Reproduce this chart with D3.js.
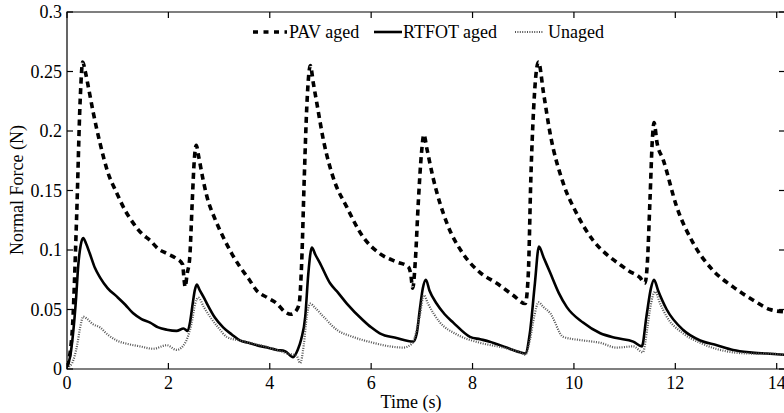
<!DOCTYPE html>
<html><head><meta charset="utf-8">
<script src="https://cdn.jsdelivr.net/npm/d3@7"></script>
<style>html,body{margin:0;padding:0;background:#fff;}svg{display:block;}</style>
</head><body>
<svg id="c" width="784" height="413"></svg>
<script>
const xTicks = [0, 2, 4, 6, 8, 10, 12, 14];
const yTicks = [0, 0.05, 0.1, 0.15, 0.2, 0.25, 0.3];
const yTickLabels = ["0", "0.05", "0.1", "0.15", "0.2", "0.25", "0.3"];
const seriesNames = ["PAV aged", "RTFOT aged", "Unaged"];

const pavTime = [0,0.1,0.19,0.26,0.31,0.36,0.43,0.52,0.65,0.8,0.98,1.15,1.3,1.47,1.64,1.8,1.97,2.15,2.28,2.31,2.33,2.37,2.42,2.47,2.51,2.55,2.6,2.68,2.76,2.92,3.08,3.25,3.41,3.58,3.74,3.95,4.14,4.3,4.42,4.52,4.58,4.63,4.68,4.73,4.8,4.86,4.93,5.06,5.25,5.52,5.84,6.17,6.5,6.73,6.78,6.82,6.87,6.93,6.99,7.04,7.1,7.22,7.49,7.81,8.15,8.48,8.8,9.04,9.1,9.15,9.22,9.3,9.4,9.53,9.79,10.05,10.38,10.71,10.9,11.1,11.3,11.4,11.45,11.5,11.55,11.58,11.64,11.76,12.03,12.35,12.74,13.14,13.53,13.87,14.15];
const pavForce = [0.002,0.03,0.128,0.226,0.258,0.25,0.235,0.215,0.19,0.166,0.148,0.133,0.123,0.114,0.108,0.101,0.097,0.093,0.088,0.075,0.069,0.08,0.093,0.14,0.175,0.188,0.178,0.16,0.145,0.126,0.111,0.097,0.086,0.076,0.066,0.06,0.055,0.048,0.046,0.049,0.055,0.09,0.16,0.22,0.255,0.24,0.223,0.192,0.161,0.136,0.111,0.097,0.09,0.086,0.08,0.068,0.09,0.14,0.18,0.197,0.185,0.161,0.123,0.097,0.081,0.072,0.062,0.055,0.08,0.16,0.23,0.258,0.232,0.198,0.156,0.131,0.108,0.094,0.088,0.082,0.077,0.072,0.09,0.142,0.195,0.207,0.19,0.176,0.136,0.106,0.083,0.069,0.058,0.05,0.048];

const rtfotTime = [0,0.06,0.12,0.18,0.22,0.27,0.32,0.38,0.45,0.55,0.65,0.8,0.98,1.15,1.3,1.47,1.64,1.8,1.97,2.16,2.3,2.38,2.43,2.48,2.52,2.56,2.62,2.7,2.76,2.92,3.08,3.25,3.41,3.58,3.74,3.95,4.14,4.3,4.46,4.55,4.62,4.7,4.76,4.83,4.9,4.99,5.19,5.35,5.52,5.84,6.0,6.17,6.5,6.83,6.9,6.96,7.02,7.08,7.15,7.29,7.45,7.62,7.95,8.15,8.34,8.67,8.94,9.04,9.13,9.23,9.31,9.4,9.53,9.7,9.86,10.18,10.52,10.84,11.17,11.34,11.43,11.52,11.58,11.66,11.83,12.15,12.49,12.82,13.14,13.47,13.8,14.15];
const rtfotForce = [0.002,0.01,0.03,0.06,0.086,0.104,0.11,0.105,0.097,0.085,0.077,0.068,0.061,0.054,0.047,0.042,0.039,0.035,0.033,0.032,0.034,0.032,0.04,0.055,0.066,0.071,0.066,0.06,0.055,0.043,0.035,0.029,0.024,0.022,0.02,0.018,0.016,0.015,0.01,0.016,0.025,0.044,0.08,0.102,0.096,0.089,0.072,0.064,0.055,0.041,0.035,0.03,0.026,0.023,0.03,0.05,0.068,0.075,0.066,0.055,0.046,0.039,0.027,0.025,0.023,0.018,0.014,0.013,0.03,0.072,0.103,0.094,0.081,0.064,0.052,0.039,0.03,0.026,0.023,0.019,0.044,0.068,0.075,0.066,0.05,0.033,0.024,0.02,0.016,0.014,0.013,0.012];

const unagedTime = [0,0.1,0.2,0.26,0.32,0.4,0.5,0.65,0.8,0.98,1.2,1.44,1.7,1.97,2.16,2.33,2.46,2.53,2.59,2.7,2.82,3.0,3.15,3.4,3.61,3.9,4.14,4.35,4.53,4.6,4.67,4.73,4.8,4.88,5.06,5.32,5.64,6.04,6.37,6.63,6.8,6.9,6.96,7.04,7.12,7.36,7.69,8.15,8.6,8.94,9.04,9.13,9.22,9.3,9.4,9.53,9.79,10.18,10.52,10.84,11.17,11.36,11.45,11.5,11.6,11.7,11.83,12.15,12.49,12.8,13.14,13.5,13.8,14.15];
const unagedForce = [0.001,0.005,0.02,0.035,0.044,0.042,0.038,0.035,0.029,0.024,0.021,0.019,0.017,0.02,0.016,0.022,0.039,0.055,0.06,0.052,0.044,0.034,0.027,0.024,0.022,0.019,0.016,0.013,0.011,0.005,0.02,0.044,0.055,0.052,0.044,0.033,0.027,0.022,0.019,0.018,0.021,0.033,0.045,0.062,0.055,0.039,0.029,0.022,0.018,0.014,0.012,0.024,0.045,0.056,0.052,0.047,0.027,0.024,0.022,0.018,0.019,0.014,0.035,0.05,0.065,0.055,0.044,0.03,0.022,0.017,0.014,0.013,0.013,0.012];

const L = 67, T = 12, R = 785, B = 369;
const x = d3.scaleLinear().domain([0, 14]).range([L, 776.7]);
const y = d3.scaleLinear().domain([0, 0.3]).range([B, T]);
const svg = d3.select("#c");
const font = "'Liberation Serif', 'Times New Roman', serif";

svg.append("clipPath").attr("id", "clp").append("rect")
  .attr("x", L).attr("y", T).attr("width", R - L).attr("height", B - T);

const line = d3.line().x(d => x(d[0])).y(d => y(d[1])).curve(d3.curveMonotoneX);
const zip = (a, b) => a.map((t, i) => [t, b[i]]);

const g = svg.append("g").attr("clip-path", "url(#clp)");
g.append("path").datum(zip(pavTime, pavForce)).attr("d", line)
  .attr("fill", "none").attr("stroke", "#000").attr("stroke-width", 3.6).attr("stroke-dasharray", "6,4.5");
g.append("path").datum(zip(rtfotTime, rtfotForce)).attr("d", line)
  .attr("fill", "none").attr("stroke", "#000").attr("stroke-width", 2.6);
g.append("path").datum(zip(unagedTime, unagedForce)).attr("d", line)
  .attr("fill", "none").attr("stroke", "#555").attr("stroke-width", 2.2).attr("stroke-dasharray", "1,1.4");

// axes box
const ax = svg.append("g").attr("stroke", "#000").attr("stroke-width", 1.2).attr("fill", "none");
ax.append("path").attr("d", `M${L},${T}H${R}V${B}H${L}Z`);
const tl = 6;
xTicks.forEach(t => {
  ax.append("line").attr("x1", x(t)).attr("x2", x(t)).attr("y1", B).attr("y2", B - tl);
  ax.append("line").attr("x1", x(t)).attr("x2", x(t)).attr("y1", T).attr("y2", T + tl);
});
yTicks.forEach(v => {
  ax.append("line").attr("x1", L).attr("x2", L + tl).attr("y1", y(v)).attr("y2", y(v));
  ax.append("line").attr("x1", R).attr("x2", R - tl).attr("y1", y(v)).attr("y2", y(v));
});

const txt = svg.append("g").attr("font-family", font).attr("font-size", 18).attr("fill", "#000");
xTicks.forEach(t => {
  txt.append("text").attr("x", x(t)).attr("y", 389).attr("text-anchor", "middle").text(t);
});
yTicks.forEach((v, i) => {
  txt.append("text").attr("x", 62).attr("y", y(v) + 6).attr("text-anchor", "end").text(yTickLabels[i]);
});
txt.append("text").attr("x", 411).attr("y", 408).attr("text-anchor", "middle").text("Time (s)");
txt.append("text").attr("transform", "translate(23,190) rotate(-90)").attr("text-anchor", "middle").text("Normal Force (N)");

// legend
const lg = svg.append("g");
const ly = 32;
lg.append("line").attr("x1", 253).attr("x2", 287).attr("y1", ly).attr("y2", ly)
  .attr("stroke", "#000").attr("stroke-width", 3.6).attr("stroke-dasharray", "5,5.5");
lg.append("text").attr("x", 289).attr("y", ly + 6).attr("font-family", font).attr("font-size", 18).text(seriesNames[0]);
lg.append("line").attr("x1", 374).attr("x2", 402).attr("y1", ly).attr("y2", ly)
  .attr("stroke", "#000").attr("stroke-width", 2.6);
lg.append("text").attr("x", 403).attr("y", ly + 6).attr("font-family", font).attr("font-size", 18).text(seriesNames[1]);
lg.append("line").attr("x1", 515).attr("x2", 543).attr("y1", ly).attr("y2", ly)
  .attr("stroke", "#555").attr("stroke-width", 2.2).attr("stroke-dasharray", "1,1.4");
lg.append("text").attr("x", 548).attr("y", ly + 6).attr("font-family", font).attr("font-size", 18).text(seriesNames[2]);
</script>
</body></html>
